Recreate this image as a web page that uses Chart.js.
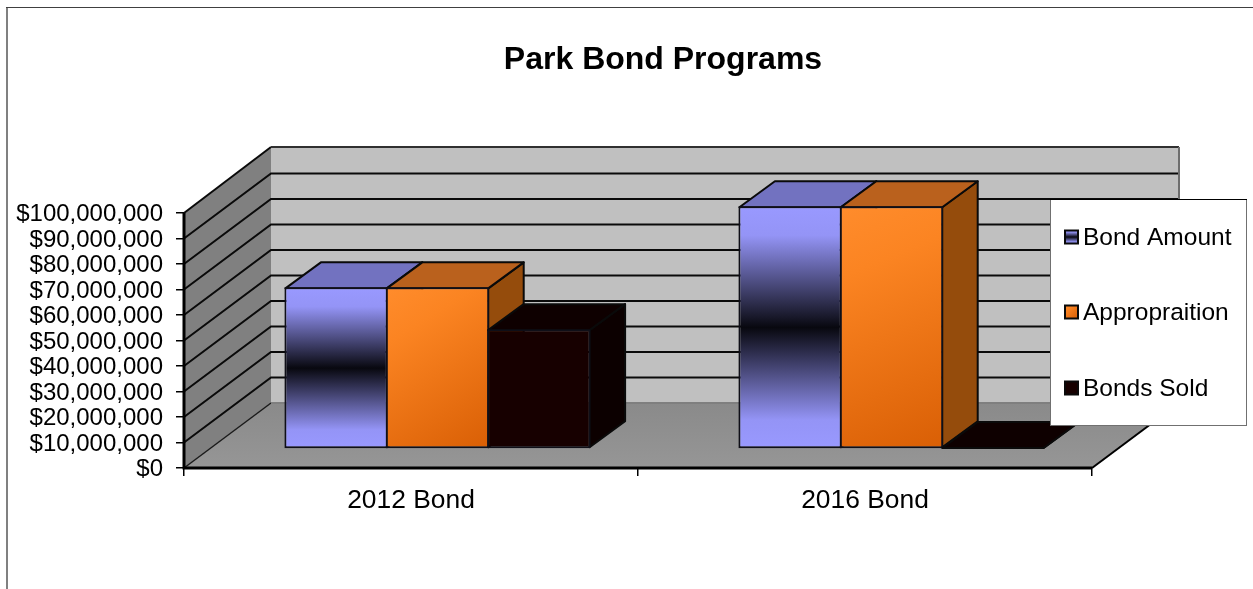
<!DOCTYPE html>
<html>
<head>
<meta charset="utf-8">
<title>Park Bond Programs</title>
<script src="https://cdn.jsdelivr.net/npm/chart.js@4"></script>
<style>
  html, body { margin: 0; padding: 0; background: #fff; overflow: hidden; }
  #wrap { position: relative; width: 1253px; height: 589px; }
</style>
</head>
<body>
<div id="wrap"><canvas id="chart" width="1253" height="589"></canvas></div>
<script>
const categories = ['2012 Bond', '2016 Bond'];
const bondAmount = [63400000, 95200000];
const appropriation = [63400000, 95200000];
const bondsSold = [47000000, 0];
const axisMax = 100000000;
const axisStep = 10000000;

const FONT = '"Liberation Sans", Arial, sans-serif';
// Oblique projection of the 3D box: floor depth and the depth of each bar.
const WALL = { dx: 87, dy: -65 };
const BAR_SHIFT = { dx: 26.5, dy: -19 };
const BAR_DEPTH = { dx: 35.5, dy: -26 };
const BAR_BORDER = 2;

const PLOT = { left: 184, right: 1092, top: 213, bottom: 468 };

function poly(ctx, pts, fill, stroke, lw) {
  ctx.beginPath();
  pts.forEach((p, i) => (i ? ctx.lineTo(p[0], p[1]) : ctx.moveTo(p[0], p[1])));
  ctx.closePath();
  if (fill) { ctx.fillStyle = fill; ctx.fill(); }
  if (stroke) { ctx.strokeStyle = stroke; ctx.lineWidth = lw || 2; ctx.lineJoin = 'round'; ctx.stroke(); }
}

function periwinkleFill(ctx, y0, y1) {
  const g = ctx.createLinearGradient(0, y0, 0, y1);
  g.addColorStop(0, '#9999ff');
  g.addColorStop(0.12, '#9494f6');
  g.addColorStop(0.5, '#08080f');
  g.addColorStop(0.88, '#9494f6');
  g.addColorStop(1, '#9999ff');
  return g;
}

function orangeFill(ctx, x0, y0, x1, y1) {
  const g = ctx.createLinearGradient(x0, y0, x1, y1);
  g.addColorStop(0, '#ff8c2c');
  g.addColorStop(0.25, '#fb8422');
  g.addColorStop(1, '#d95f05');
  return g;
}

function barBounds(context) {
  const { chart, dataIndex, raw } = context;
  const xs = chart.scales.x, ys = chart.scales.y;
  const catW = (xs.right - xs.left) / categories.length;
  const barW = catW * 0.67 / 3;
  const cx = xs.getPixelForValue(dataIndex) + (context.datasetIndex - 1) * barW;
  return { x0: cx - barW / 2, x1: cx + barW / 2, y0: ys.getPixelForValue(raw), y1: ys.getPixelForValue(0) };
}

// Colours of the three faces of each series' bars.
const seriesFaces = [
  { top: '#7272c0', side: '#4c4c80',
    front: c => { if (!c.chart.chartArea) return '#9999ff'; const b = barBounds(c); return periwinkleFill(c.chart.ctx, b.y0, b.y1); } },
  { top: '#ba611d', side: '#954c0c',
    front: c => { if (!c.chart.chartArea) return '#f5821f'; const b = barBounds(c); return orangeFill(c.chart.ctx, b.x0, b.y0, b.x1, b.y1); } },
  { top: '#0e0000', side: '#0c0000', front: () => '#170000' }
];

function drawWalls(chart) {
  const ctx = chart.ctx, { left, right, top, bottom } = chart.chartArea, ys = chart.scales.y;
  const d = WALL;
  const wallTop = top + d.dy - 1;
  ctx.save();
  // Outer chart frame
  ctx.fillStyle = '#808080';
  ctx.fillRect(6, 7, 2, 582);
  ctx.fillStyle = '#404040';
  ctx.fillRect(6, 7, 1247, 1);

  poly(ctx, [[left + d.dx, wallTop], [right + d.dx, wallTop], [right + d.dx, bottom + d.dy], [left + d.dx, bottom + d.dy]], '#c0c0c0');
  poly(ctx, [[left, top], [left + d.dx, wallTop], [left + d.dx, bottom + d.dy], [left, bottom]], '#808080');
  const floor = ctx.createLinearGradient(0, bottom + d.dy, 0, bottom);
  floor.addColorStop(0, '#8a8a8a');
  floor.addColorStop(1, '#969696');
  poly(ctx, [[left, bottom], [right, bottom], [right + d.dx, bottom + d.dy], [left + d.dx, bottom + d.dy]], floor);

  ys.ticks.forEach(t => {
    const y = ys.getPixelForValue(t.value);
    const zero = t.value === 0;
    if (t.value === axisMax) return;
    ctx.beginPath();
    ctx.moveTo(left, y);
    ctx.lineTo(left + d.dx, y + d.dy);
    if (!zero) ctx.lineTo(right + d.dx, y + d.dy);
    ctx.strokeStyle = zero ? '#1a1a1a' : '#0a0a0a';
    ctx.lineWidth = zero ? 1.5 : 2;
    ctx.stroke();
  });
  // Top edge of the box over both walls
  ctx.strokeStyle = '#0a0a0a';
  ctx.lineWidth = 2;
  ctx.beginPath();
  ctx.moveTo(left, top);
  ctx.lineTo(left + d.dx, wallTop);
  ctx.stroke();
  ctx.fillStyle = '#303030';
  ctx.fillRect(left + d.dx, wallTop - 1, right - left, 2);
  // Strip where back wall meets the floor, and the gray outer edge of the wall
  ctx.fillStyle = '#7f7f7f';
  ctx.fillRect(left + d.dx, bottom + d.dy - 1, right - left, 2);
  ctx.fillStyle = '#6e6e6e';
  ctx.fillRect(right + d.dx - 1, wallTop, 2, bottom - top + 1);

  // Front edges of the box
  ctx.strokeStyle = '#000';
  ctx.lineWidth = 3;
  ctx.beginPath();
  ctx.moveTo(left, top);
  ctx.lineTo(left, bottom);
  ctx.lineTo(right, bottom);
  ctx.stroke();
  ctx.lineWidth = 2;
  ctx.beginPath();
  ctx.moveTo(right, bottom);
  ctx.lineTo(right + d.dx, bottom + d.dy);
  ctx.stroke();
  ctx.restore();
}

// Each bar gets its top and side face, then the controller paints its front,
// series by series from left to right so nearer faces overlap correctly.
function drawBars(chart) {
  const ctx = chart.ctx;
  const { dx, dy } = BAR_DEPTH;
  const inset = BAR_BORDER / 2;
  chart.data.datasets.forEach((ds, i) => {
    const meta = chart.getDatasetMeta(i), faces = seriesFaces[i];
    ctx.save();
    ctx.translate(BAR_SHIFT.dx, BAR_SHIFT.dy);
    meta.data.forEach(el => {
      const { x, y, base, width } = el.getProps(['x', 'y', 'base', 'width'], true);
      const l = x - width / 2 + inset, r = x + width / 2 - inset;
      const b = base - inset, t = Math.min(y + inset, b);
      poly(ctx, [[r, t], [r + dx, t + dy], [r + dx, b + dy], [r, b]], faces.side, '#0a0a0a', 2);
      poly(ctx, [[l, t], [l + dx, t + dy], [r + dx, t + dy], [r, t]], faces.top, '#0a0a0a', 2);
    });
    meta.controller.draw();
    ctx.restore();
  });
}

const boxPlugin = {
  id: 'box3d',
  afterLayout(chart) {
    // Centre the title over the drawn box rather than the padded layout.
    chart.titleBlock.left = 0;
    chart.titleBlock.right = 1326;
  },
  beforeDatasetsDraw(chart) {
    drawWalls(chart);
    drawBars(chart);
    return false;
  },
  afterDraw(chart) {
    // Legend panel sits over the plot on the right.
    const ctx = chart.ctx;
    const box = { x: 1050, y: 199, w: 196, h: 226 };
    const rows = [238, 313, 389];
    ctx.save();
    ctx.fillStyle = '#fff';
    ctx.fillRect(box.x, box.y, box.w, box.h);
    ctx.strokeStyle = '#707070';
    ctx.lineWidth = 1;
    ctx.strokeRect(box.x + 0.5, box.y + 0.5, box.w, box.h);
    ctx.fillStyle = '#000';
    ctx.fillRect(box.x, box.y, box.w + 1, 1);
    chart.data.datasets.forEach((ds, i) => {
      const cy = rows[i], sx = 1065, sy = cy - 7.5, s = 13;
      ctx.fillStyle = i === 0 ? periwinkleFill(ctx, sy, sy + s) : i === 1 ? orangeFill(ctx, sx, sy, sx + s, sy + s) : '#170000';
      ctx.fillRect(sx, sy, s, s);
      ctx.strokeStyle = '#0a0a0a';
      ctx.lineWidth = 2;
      ctx.strokeRect(sx, sy, s, s);
      ctx.fillStyle = '#000';
      ctx.font = '24.5px ' + FONT;
      ctx.textAlign = 'left';
      ctx.textBaseline = 'middle';
      ctx.fillText(ds.label, 1083, cy);
    });
    ctx.restore();
  }
};

const dollars = v => '$' + Number(v).toLocaleString('en-US');

new Chart(document.getElementById('chart'), {
  type: 'bar',
  data: {
    labels: categories,
    datasets: [
      { label: 'Bond Amount', data: bondAmount, backgroundColor: seriesFaces[0].front },
      { label: 'Appropraition', data: appropriation, backgroundColor: seriesFaces[1].front },
      { label: 'Bonds Sold', data: bondsSold, backgroundColor: seriesFaces[2].front }
    ]
  },
  options: {
    responsive: false,
    animation: false,
    clip: false,
    layout: { padding: { left: 0, right: 1253 - PLOT.right, top: 0, bottom: 589 - PLOT.bottom - 60 } },
    datasets: {
      bar: {
        barPercentage: 1.02,
        categoryPercentage: 0.67,
        borderColor: '#0f0f18',
        borderWidth: BAR_BORDER,
        borderSkipped: false
      }
    },
    plugins: {
      legend: { display: false },
      tooltip: { enabled: false },
      title: {
        display: true,
        text: 'Park Bond Programs',
        color: '#000',
        font: { family: FONT, size: 32, weight: 'bold', lineHeight: 1 },
        padding: { top: 44, bottom: PLOT.top - 44 - 32 }
      }
    },
    scales: {
      x: {
        offset: true,
        afterFit: s => { s.height = 60; },
        border: { display: false },
        grid: { display: true, offset: true, drawOnChartArea: false, drawTicks: true, tickLength: 8, color: '#000', lineWidth: 1.5 },
        ticks: { color: '#000', font: { family: FONT, size: 26.4, lineHeight: 1 }, padding: 12, maxRotation: 0 }
      },
      y: {
        min: 0,
        max: axisMax,
        afterFit: s => { s.width = PLOT.left; },
        border: { display: false },
        grid: { display: true, drawOnChartArea: false, drawTicks: true, tickLength: 8, color: '#000', lineWidth: 1.5 },
        ticks: {
          stepSize: axisStep,
          autoSkip: false,
          color: '#000',
          font: { family: FONT, size: 24, lineHeight: 1 },
          padding: 13,
          labelOffset: 1.5,
          callback: dollars
        }
      }
    }
  },
  plugins: [boxPlugin]
});
</script>
</body>
</html>
